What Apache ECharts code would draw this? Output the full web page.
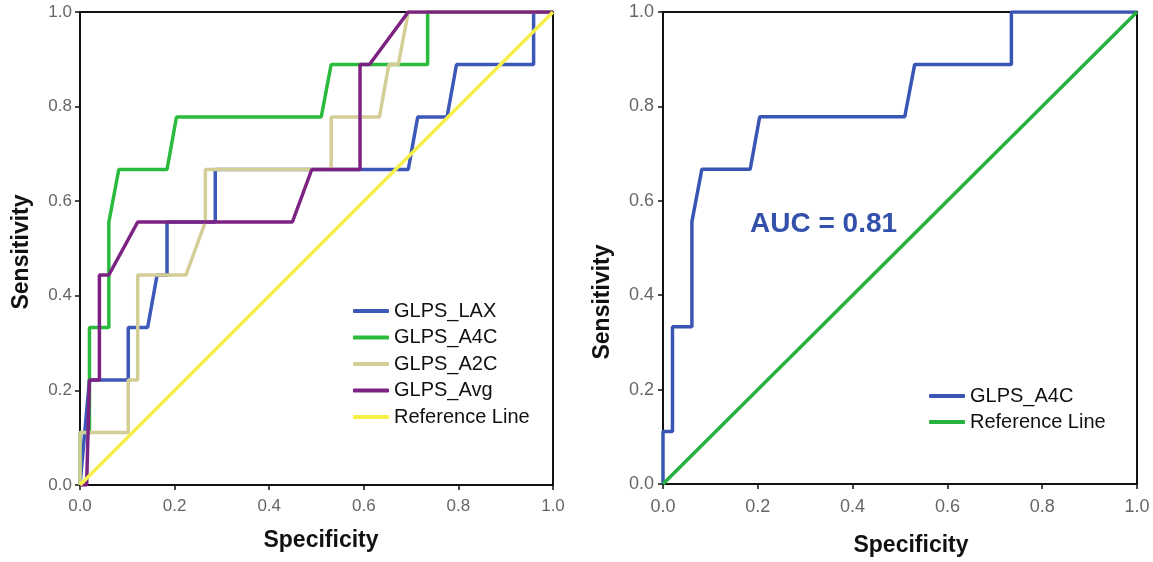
<!DOCTYPE html>
<html>
<head>
<meta charset="utf-8">
<title>ROC curves</title>
<script src="https://cdn.jsdelivr.net/npm/echarts@6/dist/echarts.min.js"></script>
<style>
  html, body { margin: 0; padding: 0; background: #fff; }
  #chart { width: 1153px; height: 562px; }
</style>
</head>
<body>
<div id="chart"></div>
<script>
  // ROC points [1 - specificity, sensitivity]
  var glpsLax = [[0, 0], [0.02, 0.222], [0.102, 0.222], [0.102, 0.333], [0.143, 0.333], [0.163, 0.444],
    [0.184, 0.444], [0.184, 0.556], [0.286, 0.556], [0.286, 0.667], [0.694, 0.667], [0.714, 0.778],
    [0.776, 0.778], [0.796, 0.889], [0.959, 0.889], [0.959, 1], [1, 1]]
  var glpsA4c = [[0, 0], [0, 0.111], [0.02, 0.111], [0.02, 0.333], [0.061, 0.333], [0.061, 0.556],
    [0.082, 0.667], [0.184, 0.667], [0.204, 0.778], [0.51, 0.778], [0.531, 0.889], [0.735, 0.889],
    [0.735, 1], [1, 1]]
  var glpsA2c = [[0, 0], [0, 0.111], [0.102, 0.111], [0.102, 0.222], [0.122, 0.222], [0.122, 0.444],
    [0.224, 0.444], [0.265, 0.556], [0.265, 0.667], [0.531, 0.667], [0.531, 0.778], [0.633, 0.778],
    [0.653, 0.889], [0.673, 0.889], [0.694, 1], [1, 1]]
  var glpsAvg = [[0, 0], [0.014, 0], [0.02, 0.222], [0.041, 0.222], [0.041, 0.444], [0.061, 0.444],
    [0.122, 0.556], [0.449, 0.556], [0.49, 0.667], [0.592, 0.667], [0.592, 0.889], [0.612, 0.889],
    [0.694, 1], [1, 1]]
  var refLine = [[0, 0], [1, 1]]
  var ticks = [0, 0.2, 0.4, 0.6, 0.8, 1.0]

  var chart = echarts.init(document.getElementById('chart'))

  function valueAxis(idx, labelSize, margin) {
    return {
      type: 'value',
      gridIndex: idx,
      min: ticks[0],
      max: ticks[ticks.length - 1],
      interval: 0.2,
      axisLine: { show: true, onZero: false, lineStyle: { color: '#111', width: 2 } },
      axisTick: { show: true, length: 5, lineStyle: { color: '#111', width: 1.5 } },
      splitLine: { show: false },
      axisLabel: {
        color: '#666',
        fontSize: labelSize,
        fontFamily: 'Liberation Sans',
        margin: margin,
        formatter: function (v) { return v.toFixed(1) }
      }
    }
  }

  function line(name, data, color, x, y, w) {
    return {
      name: name,
      type: 'line',
      xAxisIndex: x,
      yAxisIndex: y,
      data: data,
      showSymbol: false,
      symbol: 'none',
      animation: false,
      lineStyle: { color: color, width: w },
      itemStyle: { color: color }
    }
  }

  var titleFont = { fontFamily: 'Liberation Sans', fontWeight: 'bold', fontSize: 23, fill: '#111' }

  chart.setOption({
    backgroundColor: '#fff',
    animation: false,
    grid: [
      { left: 80, top: 12, width: 473, height: 473, show: true, borderColor: '#111', borderWidth: 2 },
      { left: 663, top: 12, width: 474, height: 472, show: true, borderColor: '#111', borderWidth: 2 }
    ],
    xAxis: [valueAxis(0, 17, 13), valueAxis(1, 18, 14)],
    yAxis: [valueAxis(0, 17, 8), valueAxis(1, 18, 9)],
    legend: [
      {
        orient: 'vertical',
        left: 348, top: 296,
        itemWidth: 36, itemHeight: 4, itemGap: 6.5,
        icon: 'roundRect',
        textStyle: { fontSize: 20, lineHeight: 20, color: '#111', fontFamily: 'Liberation Sans' },
        data: ['GLPS_LAX', 'GLPS_A4C', 'GLPS_A2C', 'GLPS_Avg', 'Reference Line']
      },
      {
        orient: 'vertical',
        left: 924, top: 381,
        itemWidth: 36, itemHeight: 4, itemGap: 6,
        icon: 'roundRect',
        textStyle: { fontSize: 20, lineHeight: 20, color: '#111', fontFamily: 'Liberation Sans' },
        data: ['GLPS_A4C ', 'Reference Line ']
      }
    ],
    series: [
      line('GLPS_LAX', glpsLax, '#3c58b8', 0, 0, 3.5),
      line('GLPS_A4C', glpsA4c, '#2bbb3c', 0, 0, 3.5),
      line('GLPS_A2C', glpsA2c, '#d3cd96', 0, 0, 3.5),
      line('GLPS_Avg', glpsAvg, '#7b2282', 0, 0, 3.5),
      line('Reference Line', refLine, '#f6f048', 0, 0, 3.5),
      line('GLPS_A4C ', glpsA4c, '#3a56b4', 1, 1, 3.5),
      line('Reference Line ', refLine, '#25b23f', 1, 1, 3.5)
    ],
    graphic: [
      { type: 'text', x: 321, y: 541, style: Object.assign({ text: 'Specificity', textAlign: 'center', textVerticalAlign: 'middle' }, titleFont) },
      { type: 'text', x: 911, y: 546, style: Object.assign({ text: 'Specificity', textAlign: 'center', textVerticalAlign: 'middle' }, titleFont) },
      { type: 'text', x: 22, y: 252, rotation: Math.PI / 2, style: Object.assign({ text: 'Sensitivity', textAlign: 'center', textVerticalAlign: 'middle' }, titleFont) },
      { type: 'text', x: 603, y: 302, rotation: Math.PI / 2, style: Object.assign({ text: 'Sensitivity', textAlign: 'center', textVerticalAlign: 'middle' }, titleFont) },
      {
        type: 'text', x: 750, y: 224,
        style: { text: 'AUC = 0.81', textVerticalAlign: 'middle', fontFamily: 'Liberation Sans', fontWeight: 'bold', fontSize: 28, fill: '#3350aa' }
      }
    ]
  })
</script>
</body>
</html>
